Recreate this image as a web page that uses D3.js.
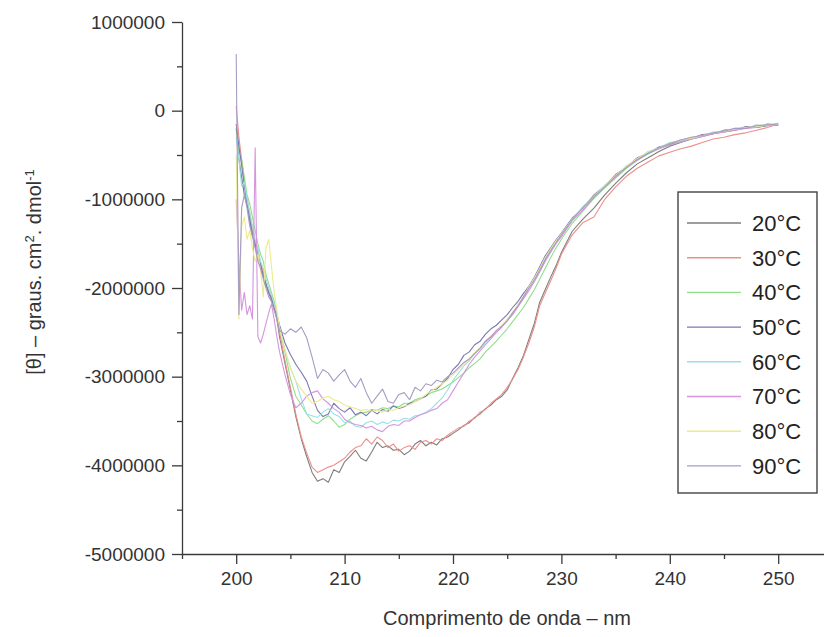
<!DOCTYPE html>
<html>
<head>
<meta charset="utf-8">
<script src="https://cdn.jsdelivr.net/npm/d3@7"></script>
<style>
  body { margin: 0; background: #fff; }
  svg { display: block; font-family: "Liberation Sans", Arial, sans-serif; }
  .axis path, .axis line { stroke: #3a3a3a; stroke-width: 1.3; }
  .axis text { fill: #333; font-size: 19px; }
  .curve { fill: none; stroke-width: 1.1; stroke-linejoin: round; }
</style>
</head>
<body>
<svg id="svg" width="824" height="637"></svg>
<script>
// values, theta in units of 10^6 deg.cm2.dmol-1
const UNIT = 1e6;

const wavelength = [200, 200.25, 200.5, 200.75, 201, 201.25, 201.5, 201.75, 202, 202.25, 202.5, 202.75,
  203, 203.25, 203.5, 203.75, 204, 204.5, 205, 205.5, 206, 206.5, 207, 207.5, 208, 208.5, 209, 209.5,
  210, 210.5, 211, 211.5, 212, 212.5, 213, 213.5, 214, 214.5, 215, 215.5, 216, 216.5, 217, 217.5,
  218, 218.5, 219, 219.5, 220, 220.5, 221, 221.5, 222, 222.5, 223, 223.5, 224, 224.5, 225, 225.5,
  226, 226.5, 227, 227.5, 228, 228.5, 229, 229.5, 230, 231, 232, 233, 234, 235, 236, 237, 238, 239,
  240, 241, 242, 243, 244, 245, 246, 247, 248, 249, 250];

const theta20 = [-0.20, -0.55, -0.75, -0.95, -1.05, -1.25, -1.40, -1.50, -1.65, -1.72, -1.85, -1.95,
  -2.05, -2.10, -2.22, -2.35, -2.55, -2.85, -3.15, -3.45, -3.70, -3.90, -4.08, -4.18, -4.15, -4.19, -4.05, -4.08,
  -3.96, -3.90, -3.83, -3.92, -3.95, -3.85, -3.74, -3.80, -3.78, -3.83, -3.82, -3.88, -3.84, -3.76, -3.72, -3.78,
  -3.74, -3.77, -3.70, -3.68, -3.64, -3.60, -3.55, -3.52, -3.46, -3.42, -3.36, -3.32, -3.26, -3.22, -3.15, -3.02,
  -2.90, -2.76, -2.58, -2.40, -2.16, -2.02, -1.88, -1.75, -1.60, -1.36, -1.22, -1.10, -0.95, -0.82, -0.70, -0.60, -0.53, -0.46,
  -0.40, -0.36, -0.32, -0.29, -0.26, -0.24, -0.22, -0.19, -0.19, -0.17, -0.16];

const theta30 = [0.05, -0.30, -0.55, -0.80, -1.00, -1.15, -1.35, -1.48, -1.60, -1.75, -1.82, -1.98,
  -2.02, -2.15, -2.20, -2.32, -2.50, -2.82, -3.12, -3.42, -3.68, -3.86, -4.02, -4.08, -4.05, -4.02, -4.00, -3.96,
  -3.92, -3.85, -3.80, -3.78, -3.70, -3.76, -3.68, -3.72, -3.80, -3.76, -3.84, -3.80, -3.78, -3.82, -3.74, -3.72,
  -3.76, -3.70, -3.72, -3.66, -3.62, -3.58, -3.56, -3.50, -3.47, -3.40, -3.37, -3.30, -3.25, -3.20, -3.12, -3.03,
  -2.92, -2.78, -2.62, -2.44, -2.20, -2.06, -1.92, -1.78, -1.62, -1.40, -1.26, -1.20, -1.00, -0.86, -0.74, -0.65, -0.58, -0.51,
  -0.47, -0.43, -0.40, -0.36, -0.32, -0.30, -0.27, -0.25, -0.22, -0.19, -0.15];

const theta40 = [-0.25, -0.45, -0.55, -0.75, -0.95, -1.05, -1.20, -1.35, -1.50, -1.62, -1.70, -1.85,
  -1.95, -2.05, -2.15, -2.28, -2.45, -2.72, -3.02, -3.22, -3.32, -3.42, -3.50, -3.53, -3.48, -3.44, -3.50, -3.57,
  -3.54, -3.48, -3.44, -3.41, -3.40, -3.37, -3.38, -3.35, -3.36, -3.33, -3.34, -3.30, -3.30, -3.26, -3.24, -3.22,
  -3.18, -3.16, -3.14, -3.10, -3.06, -3.01, -2.96, -2.90, -2.85, -2.80, -2.72, -2.66, -2.60, -2.53, -2.46, -2.38,
  -2.30, -2.22, -2.12, -2.02, -1.90, -1.78, -1.66, -1.55, -1.45, -1.27, -1.13, -0.99, -0.87, -0.76, -0.65, -0.56, -0.49, -0.43,
  -0.38, -0.35, -0.31, -0.29, -0.25, -0.24, -0.21, -0.20, -0.17, -0.17, -0.14];

const theta50 = [-0.15, -0.40, -0.62, -0.85, -1.05, -1.22, -1.40, -1.52, -1.66, -1.74, -1.88, -1.96,
  -2.06, -2.12, -2.24, -2.30, -2.42, -2.62, -2.75, -2.86, -2.95, -3.05, -3.22, -3.38, -3.45, -3.42, -3.30, -3.36,
  -3.40, -3.35, -3.43, -3.40, -3.44, -3.38, -3.42, -3.37, -3.39, -3.33, -3.36, -3.34, -3.30, -3.28, -3.25, -3.22,
  -3.15, -3.14, -3.08, -3.02, -2.92, -2.86, -2.76, -2.72, -2.64, -2.60, -2.52, -2.46, -2.42, -2.36, -2.30, -2.22,
  -2.15, -2.06, -1.98, -1.88, -1.76, -1.64, -1.55, -1.46, -1.38, -1.21, -1.10, -0.95, -0.85, -0.72, -0.64, -0.53, -0.48, -0.41,
  -0.38, -0.33, -0.31, -0.27, -0.26, -0.22, -0.22, -0.18, -0.19, -0.15, -0.16];

const theta60 = [-0.30, -0.55, -0.85, -0.80, -1.00, -1.15, -1.30, -1.45, -1.55, -1.70, -1.78, -1.90,
  -2.00, -2.08, -2.18, -2.28, -2.45, -2.70, -2.90, -3.05, -3.25, -3.42, -3.44, -3.46, -3.40, -3.36, -3.42, -3.45,
  -3.52, -3.50, -3.56, -3.57, -3.52, -3.50, -3.54, -3.51, -3.53, -3.49, -3.50, -3.47, -3.48, -3.44, -3.43, -3.40,
  -3.36, -3.30, -3.24, -3.15, -3.04, -2.96, -2.88, -2.82, -2.74, -2.68, -2.62, -2.55, -2.50, -2.44, -2.36, -2.28,
  -2.20, -2.10, -2.00, -1.90, -1.79, -1.68, -1.58, -1.48, -1.40, -1.22, -1.08, -0.97, -0.84, -0.74, -0.62, -0.55, -0.46, -0.42,
  -0.36, -0.34, -0.30, -0.29, -0.24, -0.24, -0.20, -0.20, -0.16, -0.17, -0.15];

const theta70 = [-1.00, -1.70, -2.25, -2.05, -2.30, -2.20, -2.35, -0.42, -2.55, -2.62, -2.52, -2.40,
  -2.28, -2.18, -2.35, -2.55, -2.72, -2.98, -3.20, -3.35, -3.30, -3.22, -3.18, -3.16, -3.25, -3.30, -3.36, -3.40,
  -3.48, -3.52, -3.54, -3.55, -3.58, -3.56, -3.60, -3.62, -3.56, -3.54, -3.55, -3.50, -3.50, -3.46, -3.43, -3.41,
  -3.38, -3.36, -3.30, -3.26, -3.16, -3.06, -2.96, -2.86, -2.78, -2.71, -2.64, -2.57, -2.50, -2.44, -2.37, -2.30,
  -2.21, -2.12, -2.03, -1.93, -1.82, -1.70, -1.60, -1.50, -1.42, -1.24, -1.12, -0.98, -0.86, -0.75, -0.64, -0.56, -0.48, -0.43,
  -0.39, -0.35, -0.32, -0.29, -0.26, -0.24, -0.22, -0.20, -0.19, -0.16, -0.16];

const theta80 = [-0.50, -2.35, -1.30, -1.20, -1.45, -1.35, -1.55, -1.70, -1.62, -1.80, -2.10, -1.55,
  -1.45, -1.75, -2.05, -2.25, -2.45, -2.70, -2.90, -3.05, -3.14, -3.22, -3.30, -3.28, -3.24, -3.22, -3.26, -3.28,
  -3.32, -3.34, -3.36, -3.38, -3.37, -3.39, -3.38, -3.40, -3.37, -3.38, -3.35, -3.33, -3.32, -3.28, -3.25, -3.20,
  -3.16, -3.12, -3.08, -3.04, -2.98, -2.92, -2.86, -2.80, -2.73, -2.67, -2.60, -2.54, -2.48, -2.42, -2.35, -2.27,
  -2.18, -2.09, -1.99, -1.89, -1.78, -1.66, -1.56, -1.47, -1.39, -1.23, -1.09, -0.96, -0.85, -0.73, -0.63, -0.54, -0.47, -0.42,
  -0.37, -0.33, -0.31, -0.28, -0.25, -0.23, -0.21, -0.19, -0.18, -0.16, -0.15];

const theta90 = [0.64, -2.30, -1.10, -0.95, -1.10, -1.30, -1.42, -1.55, -1.70, -1.78, -1.90, -2.00,
  -2.10, -2.15, -2.25, -2.35, -2.48, -2.52, -2.46, -2.50, -2.44, -2.56, -2.78, -3.02, -2.92, -2.96, -3.05, -2.98,
  -2.92, -3.05, -3.12, -3.02, -3.18, -3.30, -3.22, -3.14, -3.28, -3.30, -3.20, -3.18, -3.26, -3.12, -3.16, -3.08,
  -3.10, -3.04, -3.06, -3.00, -2.96, -2.90, -2.84, -2.80, -2.74, -2.68, -2.60, -2.55, -2.48, -2.43, -2.37, -2.28,
  -2.20, -2.10, -2.00, -1.91, -1.80, -1.68, -1.58, -1.49, -1.40, -1.23, -1.09, -0.97, -0.86, -0.74, -0.64, -0.55, -0.48, -0.42,
  -0.37, -0.33, -0.30, -0.28, -0.25, -0.23, -0.20, -0.20, -0.17, -0.16, -0.15];

const labels = ["20°C", "30°C", "40°C", "50°C", "60°C", "70°C", "80°C", "90°C"];
const colors = ["#7d7d7d", "#ec8f8c", "#8ee08c", "#7a78b2", "#98e0e6", "#d595df", "#eeea8e", "#a69cc4"];

const xMajor = [200, 210, 220, 230, 240, 250];
const xMinor = [195, 205, 215, 225, 235, 245, 255];
const yMajor = [1000000, 0, -1000000, -2000000, -3000000, -4000000, -5000000];
const yMinor = [500000, -500000, -1500000, -2500000, -3500000, -4500000];

const series = [theta20, theta30, theta40, theta50, theta60, theta70, theta80, theta90];

var svg = d3.select("#svg");

var x = d3.scaleLinear().domain([195, 255]).range([182, 832.4]);
var y = d3.scaleLinear().domain([-5000000, 1000000]).range([554, 22]);

// minor ticks first, then the major axes over them
svg.append("g").attr("class", "axis")
    .attr("transform", "translate(0,554)")
    .call(d3.axisBottom(x).tickValues(xMinor).tickSize(5).tickSizeOuter(0).tickFormat(""))
    .call(g => g.select(".domain").remove());

svg.append("g").attr("class", "axis")
    .attr("transform", "translate(182,0)")
    .call(d3.axisLeft(y).tickValues(yMinor).tickSize(5).tickSizeOuter(0).tickFormat(""))
    .call(g => g.select(".domain").remove());

svg.append("g").attr("class", "axis")
    .attr("transform", "translate(0,554)")
    .call(d3.axisBottom(x).tickValues(xMajor).tickSize(10).tickSizeOuter(0).tickPadding(8).tickFormat(d => String(d)));

svg.append("g").attr("class", "axis")
    .attr("transform", "translate(182,0)")
    .call(d3.axisLeft(y).tickValues(yMajor).tickSize(10).tickSizeOuter(0).tickPadding(7).tickFormat(d => String(d)));

var line = d3.line()
    .x(d => x(d[0]))
    .y(d => y(d[1] * UNIT));

series.forEach((s, i) => {
    svg.append("path")
        .datum(d3.zip(wavelength, s))
        .attr("class", "curve")
        .attr("stroke", colors[i])
        .attr("d", line);
});

// axis titles
svg.append("text")
    .attr("x", 507)
    .attr("y", 625)
    .attr("text-anchor", "middle")
    .attr("fill", "#333")
    .style("font-size", "20px")
    .text("Comprimento de onda – nm");

var yt = svg.append("text")
    .attr("transform", "translate(41,272) rotate(-90)")
    .attr("text-anchor", "middle")
    .attr("fill", "#333")
    .style("font-size", "20px");
yt.append("tspan").text("[θ] – graus. cm");
yt.append("tspan").attr("dy", -7).style("font-size", "13px").text("2");
yt.append("tspan").attr("dy", 7).text(". dmol");
yt.append("tspan").attr("dy", -7).style("font-size", "13px").text("-1");

// legend
var legend = svg.append("g");
legend.append("rect")
    .attr("x", 678).attr("y", 192)
    .attr("width", 139).attr("height", 301)
    .attr("fill", "#fff")
    .attr("stroke", "#444")
    .attr("stroke-width", 1.4);

labels.forEach((lab, i) => {
    var ly = 223 + i * 34.7;
    legend.append("line")
        .attr("x1", 687).attr("x2", 741)
        .attr("y1", ly).attr("y2", ly)
        .attr("stroke", colors[i])
        .attr("stroke-width", 1.4);
    legend.append("text")
        .attr("x", 752).attr("y", ly)
        .attr("dy", "0.36em")
        .attr("fill", "#222")
        .style("font-size", "22px")
        .text(lab);
});
</script>
</body>
</html>
